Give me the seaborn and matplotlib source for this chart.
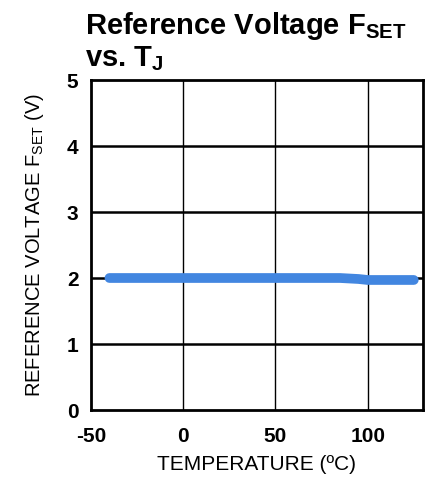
import numpy as np
import pandas as pd
import seaborn as sns
from matplotlib import pyplot as plt

sns.set_style('white')
plt.rcParams['font.family'] = ['Liberation Sans', 'DejaVu Sans']
plt.rcParams['text.color'] = 'black'
plt.rcParams['axes.labelcolor'] = 'black'
plt.rcParams['xtick.color'] = 'black'
plt.rcParams['ytick.color'] = 'black'

# curve
temperature = [-40, -25, 0, 25, 50, 75, 85, 95, 100, 110, 125]
vref = [2.00, 2.00, 2.00, 2.00, 2.00, 2.00, 2.00, 1.985, 1.97, 1.97, 1.97]
xticks = [-50, 0, 50, 100]
yticks = [0, 1, 2, 3, 4, 5]

df = pd.DataFrame({'T': temperature, 'V': vref})

fig = plt.figure(figsize=(4.27, 4.78), dpi=100)
ax = fig.add_axes([91/427, 68/478, 332/427, 330/478])

sns.lineplot(data=df, x='T', y='V', ax=ax, color='#4286e0', linewidth=7,
             solid_capstyle='round', zorder=3)

ax.set_xlim(-50, 130)
ax.set_ylim(0, 5)
ax.set_xticks(xticks)
ax.set_yticks(yticks)
ax.set_xticklabels([str(t) for t in xticks], fontsize=15, fontweight='bold')
ax.set_yticklabels([str(t) for t in yticks], fontsize=15, fontweight='bold')
ax.tick_params(axis='x', length=0, pad=12)
ax.tick_params(axis='y', length=0, pad=9)

for y in yticks[1:-1]:
    ax.axhline(y, color='black', linewidth=1.8, zorder=1)
for x in xticks[1:]:
    ax.axvline(x, color='black', linewidth=1.0, zorder=1)
for s in ax.spines.values():
    s.set_color('black')
    s.set_linewidth(2)

ax.set_xlabel('TEMPERATURE (ºC)', fontsize=15, labelpad=7)
ax.set_ylabel('REFERENCE VOLTAGE F$_{\\mathregular{SET}}$ (V)', fontsize=14.5, labelpad=15)

fig.text(85/427, 1 - 34/478, 'Reference Voltage F$_{\\mathregular{SET}}$',
         fontsize=21, fontweight='bold')
fig.text(85/427, 1 - 66/478, 'vs. T$_{\\mathregular{J}}$', fontsize=21, fontweight='bold')

fig.savefig('out.png', dpi=100)
